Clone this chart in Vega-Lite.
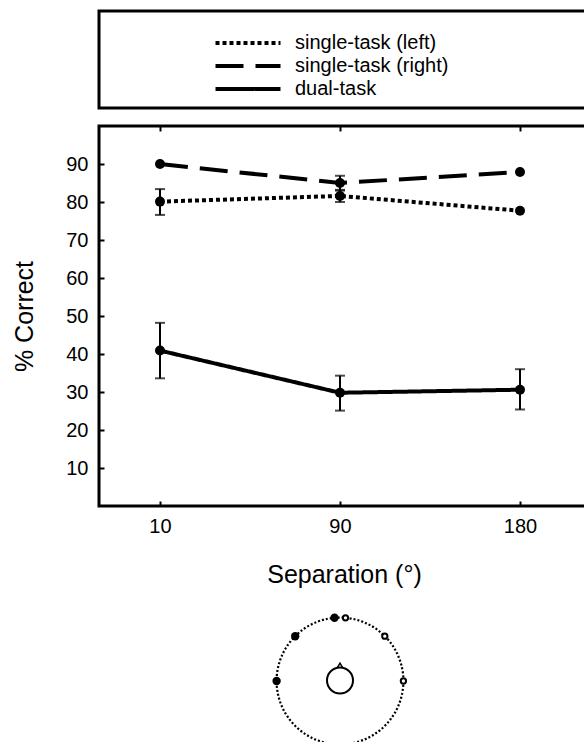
{
  "$schema": "https://vega.github.io/schema/vega-lite/v6.json",
  "background": "white",
  "padding": {"left": 11, "top": 9, "right": 0, "bottom": 0},
  "bounds": "flush",
  "spacing": 18,
  "config": {
    "font": "Liberation Sans",
    "view": {"stroke": null},
    "axis": {
      "labelFont": "Liberation Sans",
      "titleFont": "Liberation Sans",
      "labelColor": "black",
      "titleColor": "black",
      "tickColor": "black",
      "domain": false,
      "grid": false,
      "titleFontWeight": "normal"
    }
  },
  "datasets": {
    "results": [
      {"series": "single-task (left)", "separation": 10, "pct": 80.1, "lo": 76.6, "hi": 83.4},
      {"series": "single-task (left)", "separation": 90, "pct": 81.6, "lo": 80.0, "hi": 83.2},
      {"series": "single-task (left)", "separation": 180, "pct": 77.7, "lo": null, "hi": null},
      {"series": "single-task (right)", "separation": 10, "pct": 90.0, "lo": null, "hi": null},
      {"series": "single-task (right)", "separation": 90, "pct": 85.0, "lo": 83.0, "hi": 86.9},
      {"series": "single-task (right)", "separation": 180, "pct": 87.9, "lo": null, "hi": null},
      {"series": "dual-task", "separation": 10, "pct": 40.9, "lo": 33.6, "hi": 48.2},
      {"series": "dual-task", "separation": 90, "pct": 29.8, "lo": 25.1, "hi": 34.3},
      {"series": "dual-task", "separation": 180, "pct": 30.6, "lo": 25.4, "hi": 36.0}
    ],
    "diagram": [
      {"kind": "ring", "angle": null, "x": 0, "y": 0},
      {"kind": "left", "angle": 95, "x": -5.5, "y": 63.2},
      {"kind": "left", "angle": 135, "x": -44.8, "y": 44.8},
      {"kind": "left", "angle": 180, "x": -63.4, "y": 0},
      {"kind": "right", "angle": 85, "x": 5.5, "y": 63.2},
      {"kind": "right", "angle": 45, "x": 44.8, "y": 44.8},
      {"kind": "right", "angle": 0, "x": 63.4, "y": 0},
      {"kind": "head", "angle": null, "x": 0, "y": 0.5},
      {"kind": "nose", "angle": 90, "x": 0, "y": 15.5}
    ]
  },
  "vconcat": [
    {
      "width": 490,
      "height": 97,
      "view": {"stroke": "black", "strokeWidth": 3},
      "data": {"name": "results"},
      "mark": {"type": "point", "opacity": 0},
      "encoding": {}
    },
    {
      "width": 490,
      "height": 380,
      "view": {"stroke": "black", "strokeWidth": 3},
      "data": {"name": "results"},
      "layer": [
        {
          "mark": {"type": "line", "strokeWidth": 4, "color": "black"},
          "encoding": {
            "x": {
              "field": "separation", "type": "ordinal",
              "scale": {"type": "point", "padding": 0.36111, "align": 0.46923},
              "axis": {"orient": "bottom", "title": "Separation (°)", "labelAngle": 0, "labelFontSize": 20, "titleFontSize": 25, "tickSize": -5, "tickWidth": 2, "labelPadding": 15, "titlePadding": 26}
            },
            "y": {
              "field": "pct", "type": "quantitative",
              "scale": {"domain": [0, 100]},
              "axis": {"orient": "left", "title": "% Correct", "values": [10, 20, 30, 40, 50, 60, 70, 80, 90], "labelFontSize": 20, "titleFontSize": 25, "tickSize": -5, "tickWidth": 2, "labelPadding": 16, "titlePadding": 28}
            },
            "strokeDash": {
              "field": "series", "type": "nominal",
              "scale": {"domain": ["single-task (left)", "single-task (right)", "dual-task"], "range": [[4, 3], [28, 12], [1, 0]]},
              "legend": {
                "orient": "none", "legendX": 139, "legendY": 22, "title": null,
                "symbolType": "M-6.5,0H6.5", "symbolSize": 100, "symbolStrokeWidth": 4, "symbolStrokeColor": "black",
                "labelFontSize": 20, "labelFont": "Liberation Sans", "labelColor": "black", "labelOffset": 37, "rowPadding": 3
              }
            }
          }
        },
        {
          "mark": {"type": "errorbar", "color": "black", "ticks": {"size": 10, "thickness": 2}, "rule": {"strokeWidth": 2}},
          "encoding": {
            "x": {"field": "separation", "type": "ordinal", "axis": null},
            "y": {"field": "lo", "type": "quantitative", "axis": null},
            "y2": {"field": "hi"}
          }
        },
        {
          "mark": {"type": "point", "filled": true, "size": 100, "color": "black", "opacity": 1},
          "encoding": {
            "x": {"field": "separation", "type": "ordinal", "axis": {"orient": "top", "labels": false, "title": null, "tickSize": -5, "tickWidth": 2}},
            "y": {"field": "pct", "type": "quantitative", "axis": {"orient": "right", "labels": false, "title": null, "values": [10, 20, 30, 40, 50, 60, 70, 80, 90], "tickSize": -5, "tickWidth": 2}}
          }
        }
      ],
      "resolve": {"axis": {"x": "independent", "y": "independent"}}
    },
    {
      "width": 490,
      "height": 219,
      "data": {"name": "diagram"},
      "encoding": {
        "x": {"field": "x", "type": "quantitative", "scale": {"domain": [-241, 249]}, "axis": null},
        "y": {"field": "y", "type": "quantitative", "scale": {"domain": [-62, 157]}, "axis": null}
      },
      "layer": [
        {
          "transform": [{"filter": "datum.kind === 'ring'"}],
          "mark": {"type": "point", "shape": "circle", "filled": false, "size": 16078, "stroke": "black", "strokeWidth": 2.2, "strokeDash": [2, 2], "opacity": 1}
        },
        {
          "transform": [{"filter": "datum.kind === 'left'"}],
          "mark": {"type": "point", "shape": "circle", "filled": true, "size": 70, "color": "black", "opacity": 1}
        },
        {
          "transform": [{"filter": "datum.kind === 'right'"}],
          "mark": {"type": "point", "shape": "circle", "filled": false, "fill": "white", "size": 28, "stroke": "black", "strokeWidth": 2, "opacity": 1}
        },
        {
          "transform": [{"filter": "datum.kind === 'nose'"}],
          "mark": {"type": "point", "shape": "triangle-up", "filled": false, "fill": "white", "size": 30, "stroke": "black", "strokeWidth": 1.5, "opacity": 1}
        },
        {
          "transform": [{"filter": "datum.kind === 'head'"}],
          "mark": {"type": "point", "shape": "circle", "filled": false, "fill": "white", "size": 676, "stroke": "black", "strokeWidth": 2, "opacity": 1}
        }
      ]
    }
  ]
}
